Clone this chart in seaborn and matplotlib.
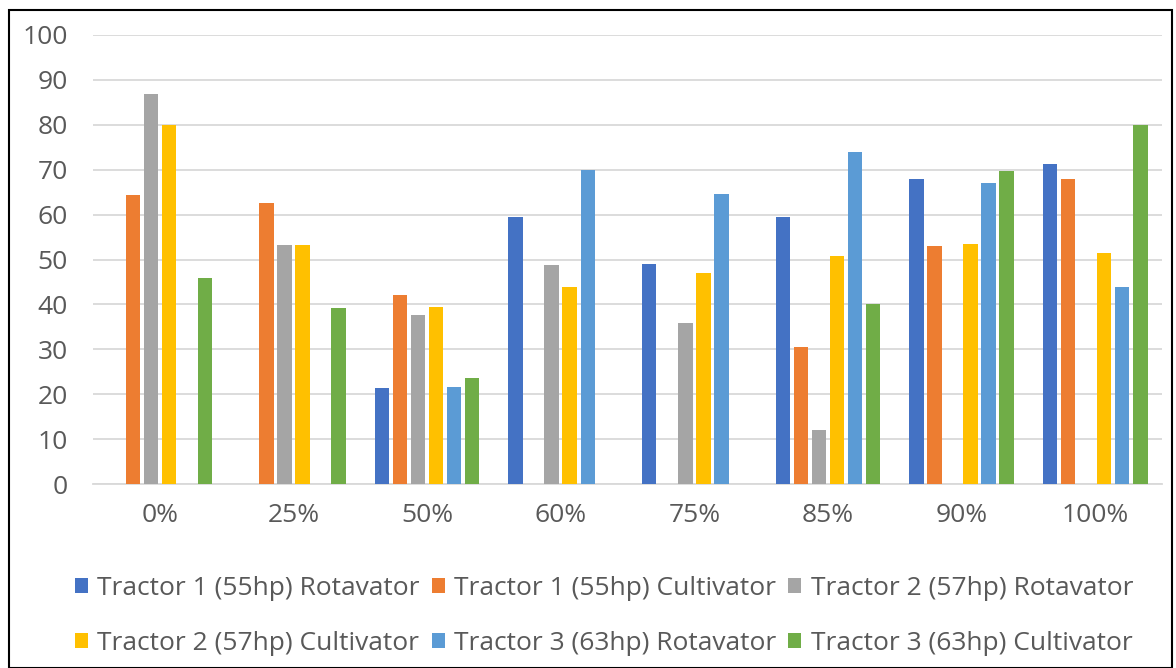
import numpy as np
import pandas as pd
import matplotlib
matplotlib.use("Agg")
import matplotlib.pyplot as plt
import seaborn as sns
from matplotlib.patches import Rectangle

categories = ["0%", "25%", "50%", "60%", "75%", "85%", "90%", "100%"]

t1_rotavator = [0, 0, 21.3, 59.5, 49.0, 59.5, 67.9, 71.2]
t1_cultivator = [64.3, 62.6, 42.1, 0, 0, 30.6, 53.1, 67.9]
t2_rotavator = [86.9, 53.3, 37.6, 48.8, 35.9, 12.0, 0, 0]
t2_cultivator = [80.0, 53.3, 39.5, 43.8, 46.9, 50.7, 53.5, 51.4]
t3_rotavator = [0, 0, 21.5, 70.0, 64.5, 73.9, 67.0, 43.8]
t3_cultivator = [45.9, 39.3, 23.5, 0, 0, 40.2, 69.8, 80.0]

series_names = [
    "Tractor 1 (55hp) Rotavator",
    "Tractor 1 (55hp) Cultivator",
    "Tractor 2 (57hp) Rotavator",
    "Tractor 2 (57hp) Cultivator",
    "Tractor 3 (63hp) Rotavator",
    "Tractor 3 (63hp) Cultivator",
]
series_values = [t1_rotavator, t1_cultivator, t2_rotavator,
                 t2_cultivator, t3_rotavator, t3_cultivator]
colors = ["#4472C4", "#ED7D31", "#A5A5A5", "#FFC000", "#5B9BD5", "#70AD47"]

rows = []
for name, vals in zip(series_names, series_values):
    for cat, v in zip(categories, vals):
        rows.append({"Load": cat, "Series": name, "Value": v})
df = pd.DataFrame(rows)

sns.set_theme(style="white")
plt.rcParams["font.family"] = ["Open Sans", "DejaVu Sans"]

fig = plt.figure(figsize=(11.76, 6.68), dpi=100)
ax = fig.add_axes([93 / 1176, 1 - 484 / 668, (1162 - 93) / 1176, (484 - 35) / 668])

sns.barplot(data=df, x="Load", y="Value", hue="Series", order=categories,
            hue_order=series_names, palette=colors, saturation=1,
            width=0.81, gap=0.2, linewidth=0, errorbar=None, ax=ax, zorder=3)

ax.set_ylim(0, 100)
ax.set_yticks(range(0, 101, 10))
ax.set_xlim(-0.5, len(categories) - 0.5)
ax.grid(axis="y", color="#D9D9D9", linewidth=1.3, zorder=0)
ax.set_axisbelow(True)
for s in ["top", "right", "left"]:
    ax.spines[s].set_visible(False)
ax.spines["bottom"].set_color("#D9D9D9")
ax.spines["bottom"].set_linewidth(1.3)
ax.set_xlabel("")
ax.set_ylabel("")
ax.tick_params(axis="both", length=0, labelsize=19, colors="#595959")
ax.tick_params(axis="x", pad=14)
ax.tick_params(axis="y", pad=18)

handles, labels = ax.get_legend_handles_labels()
ax.legend_.remove()
# legend fills column by column; reorder so entries read across rows
order = [0, 3, 1, 4, 2, 5]
fig.legend([handles[i] for i in order], [labels[i] for i in order],
           loc="center", bbox_to_anchor=(604 / 1176, 1 - 616 / 668),
           ncol=3, frameon=False, fontsize=19, handlelength=0.5,
           handleheight=0.5, handletextpad=0.35, columnspacing=0.45,
           labelspacing=1.12, labelcolor="#595959")

fig.patches.append(Rectangle((9 / 1176, 0), (1172 - 9) / 1176, 1 - 10 / 668,
                             transform=fig.transFigure, fill=False,
                             edgecolor="black", linewidth=1.5))

fig.savefig("out.png", dpi=100)
